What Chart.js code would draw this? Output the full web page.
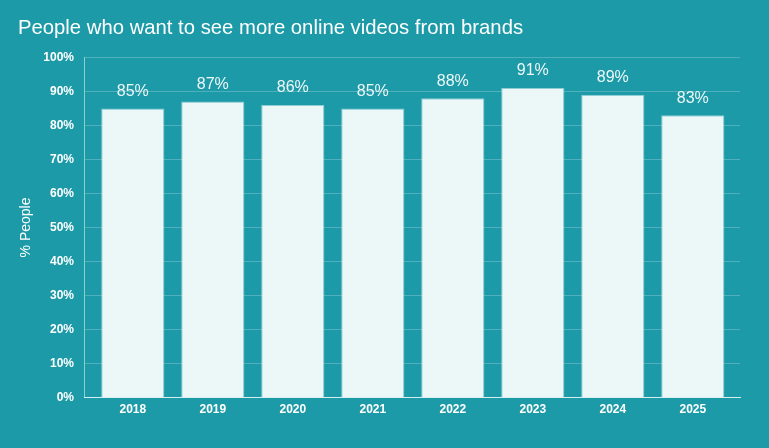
<!DOCTYPE html>
<html>
<head>
<meta charset="utf-8">
<script src="https://cdn.jsdelivr.net/npm/chart.js@4"></script>
<style>
  html, body { margin: 0; padding: 0; background: #1c9aa8; }
  #wrap { width: 769px; height: 448px; position: relative; }
</style>
</head>
<body>
<div id="wrap"><canvas id="videoChart"></canvas></div>
<script>
const years = ['2018', '2019', '2020', '2021', '2022', '2023', '2024', '2025'];
const peoplePct = [85, 87, 86, 85, 88, 91, 89, 83];
const yTicks = [0, 10, 20, 30, 40, 50, 60, 70, 80, 90, 100];

// 막대 위에 값 표시
const barLabels = {
    id: 'barLabels',
    afterDatasetsDraw(chart) {
        const ctx = chart.ctx;
        const meta = chart.getDatasetMeta(0);
        ctx.save();
        ctx.fillStyle = '#eef8f9';
        ctx.font = '16px "Liberation Sans", Arial, sans-serif';
        ctx.textAlign = 'center';
        ctx.textBaseline = 'bottom';
        meta.data.forEach((bar, i) => {
            ctx.fillText(peoplePct[i] + '%', bar.x, bar.y - 9);
        });
        ctx.restore();
    }
};

const ctx = document.getElementById('videoChart').getContext('2d');
new Chart(ctx, {
    type: 'bar',
    data: {
        datasets: [{
            data: peoplePct.map((v, i) => ({ x: i, y: v })),
            backgroundColor: '#ecf7f8',
            borderColor: 'rgba(255,255,255,0.5)',
            borderWidth: 1,
            categoryPercentage: 1,
            barPercentage: 0.79
        }]
    },
    options: {
        responsive: true,
        maintainAspectRatio: false,
        animation: false,
        layout: { padding: { left: 18, right: 29, top: 0, bottom: 26 } },
        plugins: {
            legend: { display: false },
            tooltip: { enabled: false },
            title: {
                display: true,
                text: 'People who want to see more online videos from brands',
                align: 'start',
                color: '#ffffff',
                font: { family: '"Liberation Sans", Arial, sans-serif', size: 20.3, weight: 'normal' },
                padding: { top: 16, bottom: 17 }
            }
        },
        scales: {
            x: {
                type: 'linear',
                offset: false,
                min: -0.61,
                max: 7.59,
                afterBuildTicks: axis => { axis.ticks = years.map((y, i) => ({ value: i })); },
                grid: { display: false, drawTicks: false },
                border: { color: 'rgba(255,255,255,0.8)' },
                ticks: {
                    color: '#ffffff',
                    padding: 5,
                    autoSkip: false,
                    maxRotation: 0,
                    font: { family: '"Liberation Sans", Arial, sans-serif', size: 12, weight: 'bold' },
                    callback: v => years[v]
                }
            },
            y: {
                min: 0,
                max: 100,
                afterBuildTicks: axis => { axis.ticks = yTicks.map(v => ({ value: v })); },
                afterFit: axis => { axis.width = 66; },
                grid: { color: 'rgba(255,255,255,0.22)', drawTicks: false },
                border: { color: 'rgba(255,255,255,0.5)' },
                ticks: {
                    color: '#ffffff',
                    padding: 10,
                    font: { family: '"Liberation Sans", Arial, sans-serif', size: 12, weight: 'bold' },
                    callback: v => v + '%'
                },
                title: {
                    display: true,
                    text: '% People',
                    color: '#ffffff',
                    font: { family: '"Liberation Sans", Arial, sans-serif', size: 14 },
                    padding: { top: 0, bottom: 4 }
                }
            }
        }
    },
    plugins: [barLabels]
});
</script>
</body>
</html>
